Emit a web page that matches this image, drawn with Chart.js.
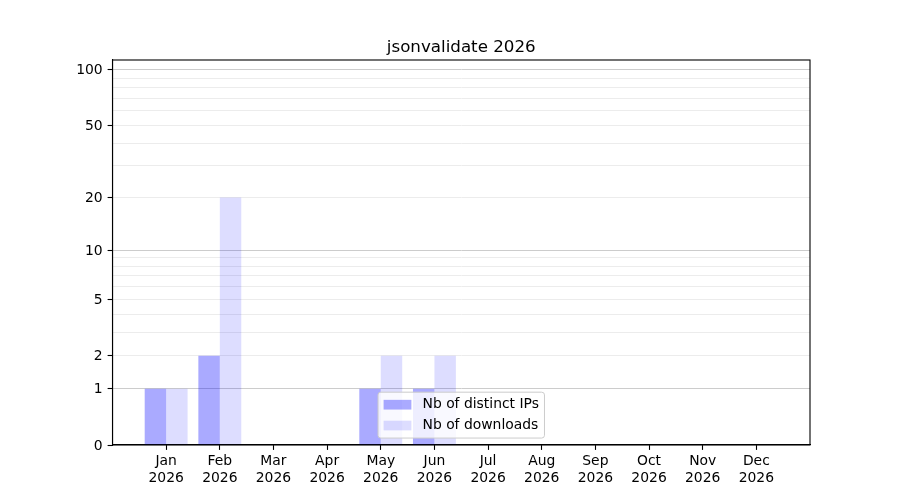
<!DOCTYPE html>
<html>
<head>
<meta charset="utf-8">
<title>jsonvalidate 2026</title>
<script src="https://cdn.jsdelivr.net/npm/chart.js@4.4.1/dist/chart.umd.min.js"></script>
<style>
  html, body { margin: 0; padding: 0; background: #fff; }
  canvas { display: block; }
</style>
</head>
<body>
<canvas id="chart" width="900" height="500"></canvas>
<script>
const chartTitle = 'jsonvalidate 2026';
const year = '2026';
const months = ['Jan', 'Feb', 'Mar', 'Apr', 'May', 'Jun', 'Jul', 'Aug', 'Sep', 'Oct', 'Nov', 'Dec'];
const distinctIps = [1, 2, 0, 0, 1, 1, 0, 0, 0, 0, 0, 0];
const downloads = [1, 20, 0, 0, 2, 2, 0, 0, 0, 0, 0, 0];
const yTickLabels = [0, 1, 2, 5, 10, 20, 50, 100];
const majorGrid = [1, 10, 100];
const minorGrid = [2, 3, 4, 5, 6, 7, 8, 9, 20, 30, 40, 50, 60, 70, 80, 90];
const yMax = 113;

const FONT = 'DejaVu Sans';
const FS = 13.9;

// y axis in log(1 + v), so 0 is allowed
class Log1pScale extends Chart.LinearScale {
    static id = 'log1p';
    buildTicks() {
        const vals = [...new Set([0].concat(majorGrid, minorGrid, yTickLabels))].sort((a, b) => a - b);
        return vals.map(v => ({ value: v }));
    }
    getPixelForValue(v) {
        const t0 = Math.log10(1 + this.min);
        const t1 = Math.log10(1 + this.max);
        return this.getPixelForDecimal((Math.log10(1 + v) - t0) / (t1 - t0));
    }
    getValueForPixel(p) {
        const t0 = Math.log10(1 + this.min);
        const t1 = Math.log10(1 + this.max);
        return Math.pow(10, t0 + this.getDecimalForPixel(p) * (t1 - t0)) - 1;
    }
}
Chart.register(Log1pScale);

const labels = [''].concat(months.map(m => [m, year]), ['']);

const framePlugin = {
    id: 'frameAndLegend',
    afterDatasetsDraw(chart) {
        const ctx = chart.ctx;
        const a = chart.chartArea;
        ctx.save();
        ctx.strokeStyle = '#000';
        ctx.lineWidth = 1.1;
        ctx.strokeRect(a.left, a.top, a.right - a.left, a.bottom - a.top);

        // title over the axes
        ctx.fillStyle = '#000';
        ctx.font = '16.7px "' + FONT + '"';
        ctx.textAlign = 'center';
        ctx.textBaseline = 'alphabetic';
        ctx.fillText(chartTitle, (a.left + a.right) / 2, a.top - 8.3);

        // legend, lower center
        ctx.font = FS + 'px "' + FONT + '"';
        const sets = chart.data.datasets;
        const textW = Math.max(...sets.map(d => ctx.measureText(d.label).width));
        const pad = 0.4 * FS, handle = 2 * FS, gap = 0.8 * FS, spacing = 0.5 * FS;
        const w = pad + handle + gap + textW + pad;
        const h = pad * 2 + sets.length * FS + (sets.length - 1) * spacing;
        const x = (a.left + a.right) / 2 - w / 2;
        const y = a.bottom - 0.5 * FS - h;
        ctx.beginPath();
        ctx.roundRect(x, y, w, h, 0.2 * FS);
        ctx.fillStyle = 'rgba(255,255,255,0.8)';
        ctx.fill();
        ctx.strokeStyle = '#cccccc';
        ctx.lineWidth = 1;
        ctx.stroke();
        sets.forEach((d, i) => {
            const cy = y + pad + FS / 2 + i * (FS + spacing);
            ctx.fillStyle = d.backgroundColor;
            ctx.fillRect(x + pad, cy - 0.35 * FS, handle, 0.7 * FS);
            ctx.fillStyle = '#000';
            ctx.textBaseline = 'middle';
            ctx.textAlign = 'left';
            ctx.fillText(d.label, x + pad + handle + gap, cy);
        });
        ctx.restore();
    }
};

new Chart(document.getElementById('chart'), {
    type: 'bar',
    data: {
        labels: labels,
        datasets: [{
            label: 'Nb of distinct IPs',
            data: [null].concat(distinctIps, [null]),
            backgroundColor: 'rgba(0,0,255,0.333)',
            borderWidth: 0
        }, {
            label: 'Nb of downloads',
            data: [null].concat(downloads, [null]),
            backgroundColor: 'rgba(0,0,255,0.133)',
            borderWidth: 0
        }]
    },
    options: {
        responsive: false,
        animation: false,
        devicePixelRatio: 1,
        categoryPercentage: 0.8,
        barPercentage: 1.0,
        layout: { padding: { left: 0, right: 90, top: 60, bottom: 0 } },
        plugins: {
            legend: { display: false },
            tooltip: { enabled: false },
            title: { display: false }
        },
        scales: {
            x: {
                offset: false,
                afterBuildTicks: s => { s.ticks = s.ticks.filter(t => t.value >= 1 && t.value <= months.length); },
                afterFit: s => { s.height = 55; },
                grid: { display: true, offset: false, drawOnChartArea: false, drawTicks: true, tickLength: 4.9, tickColor: '#000', tickWidth: 1.1 },
                border: { display: true, color: '#000', width: 1.1 },
                ticks: { color: '#000', font: { family: FONT, size: FS }, padding: 3.5, autoSkip: false, maxRotation: 0 }
            },
            y: {
                type: 'log1p',
                min: 0,
                max: yMax,
                afterFit: s => { s.width = 112.5; },
                grid: {
                    drawTicks: true,
                    tickLength: 4.9,
                    color: c => majorGrid.includes(c.tick.value) ? '#cccccc'
                        : minorGrid.includes(c.tick.value) ? '#ececec' : 'rgba(0,0,0,0)',
                    lineWidth: 1,
                    tickColor: c => yTickLabels.includes(c.tick.value) ? '#000' : 'rgba(0,0,0,0)',
                    tickWidth: 1.1
                },
                border: { display: true, color: '#000', width: 1.1 },
                ticks: {
                    color: '#000',
                    font: { family: FONT, size: FS },
                    padding: 4.9,
                    labelOffset: 1,
                    autoSkip: false,
                    callback: v => yTickLabels.includes(v) ? String(v) : ''
                }
            }
        }
    },
    plugins: [framePlugin]
});
</script>
</body>
</html>
